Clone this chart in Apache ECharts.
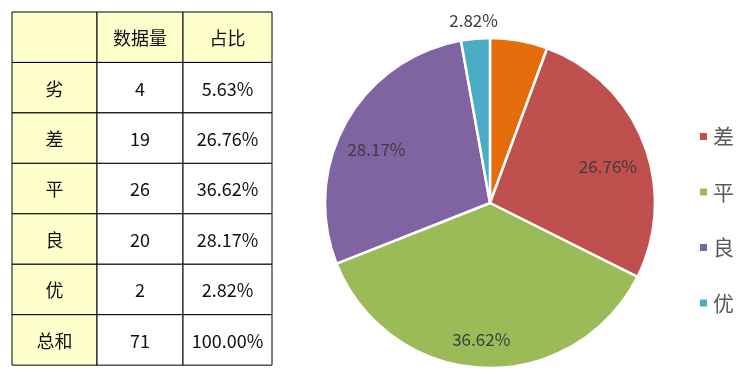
<!DOCTYPE html>
<html><head><meta charset="utf-8">
<script src="https://cdn.jsdelivr.net/npm/echarts@6/dist/echarts.min.js"></script>
<style>html,body{margin:0;padding:0;background:#fff}#c{width:738px;height:378px}</style>
</head><body><div id="c"></div>
<script>
const categories = ['劣', '差', '平', '良', '优'];
const counts = [4, 19, 26, 20, 2];
const percents = ['5.63%', '26.76%', '36.62%', '28.17%', '2.82%'];
const headers = ['', '数据量', '占比'];
const totalRow = ['总和', '71', '100.00%'];
const legendNames = ['差', '平', '良', '优'];
const colors = ['#E46C0A', '#C0504D', '#9BBB59', '#8064A2', '#4BACC6'];
const innerLabelNames = ['差', '平', '良'];
const outerLabelNames = ['优'];

const FONT = '"Noto Sans CJK SC", "Noto Sans", sans-serif';
const chart = echarts.init(document.getElementById('c'));

// table
const colX = [12, 97, 183, 272];
const rowTop = 12, rowH = 50.45;
const rows = [headers];
categories.forEach((c, i) => rows.push([c, String(counts[i]), percents[i]]));
rows.push(totalRow);
const graphics = [];
rows.forEach((r, ri) => {
  r.forEach((txt, ci) => {
    const x = colX[ci], w = colX[ci + 1] - colX[ci];
    const y = rowTop + ri * rowH;
    const yellow = ri === 0 || ci === 0;
    graphics.push({ type: 'rect', shape: { x: x, y: y, width: w, height: rowH },
      style: { fill: yellow ? '#FFFFCC' : '#FFFFFF', stroke: '#000', lineWidth: 1 }, z: 1 });
    if (txt) graphics.push({ type: 'text', x: x + w / 2, y: y + rowH / 2 + 1,
      style: { text: txt, font: '18px ' + FONT, fill: '#111', textAlign: 'center', textVerticalAlign: 'middle' }, z: 2 });
  });
});

const pieData = categories.map((c, i) => ({ name: c, value: counts[i], itemStyle: { color: colors[i] } }));
const center = [490, 203];
const labelStyle = { color: '#3c3c3c', fontSize: 17, fontFamily: FONT, formatter: '{d}%' };
// label nudges (Excel best-fit placement is not strictly radial)
const nudge = { '差': [-3, 11], '平': [-3, 7], '良': [0, 10], '优': [0, 3] };
const layoutFn = p => { const n = nudge[p.dataIndex !== undefined ? categories[p.dataIndex] : ''] || [0, 0]; return { dx: n[0], dy: n[1] }; };

chart.setOption({
  animation: false,
  graphic: graphics,
  legend: {
    orient: 'vertical', left: 693, top: 121,
    itemWidth: 9, itemHeight: 9, itemGap: 34.5, icon: 'rect',
    textStyle: { color: '#595959', fontSize: 21, fontFamily: FONT, lineHeight: 21 },
    data: legendNames.map(n => ({ name: n, itemStyle: { color: colors[categories.indexOf(n)] } })),
    selectedMode: false
  },
  series: [
    { type: 'pie', center: center, radius: 165, startAngle: 90, clockwise: true,
      data: pieData, label: { show: false }, labelLine: { show: false },
      itemStyle: { borderColor: '#fff', borderWidth: 2.5 }, silent: true },
    { type: 'pie', center: center, radius: [98, 156], startAngle: 90, clockwise: true,
      data: categories.map((c, i) => ({ name: c, value: counts[i],
        label: { show: innerLabelNames.includes(c) } })),
      itemStyle: { color: 'rgba(0,0,0,0)' }, label: Object.assign({ position: 'inside' }, labelStyle),
      labelLine: { show: false }, labelLayout: layoutFn, silent: true, z: 5 },
    { type: 'pie', center: center, radius: [170, 196], startAngle: 90, clockwise: true,
      data: categories.map((c, i) => ({ name: c, value: counts[i],
        label: { show: outerLabelNames.includes(c) } })),
      itemStyle: { color: 'rgba(0,0,0,0)' }, label: Object.assign({ position: 'inside' }, labelStyle),
      labelLine: { show: false }, labelLayout: layoutFn, silent: true, z: 5 }
  ]
});
</script></body></html>
